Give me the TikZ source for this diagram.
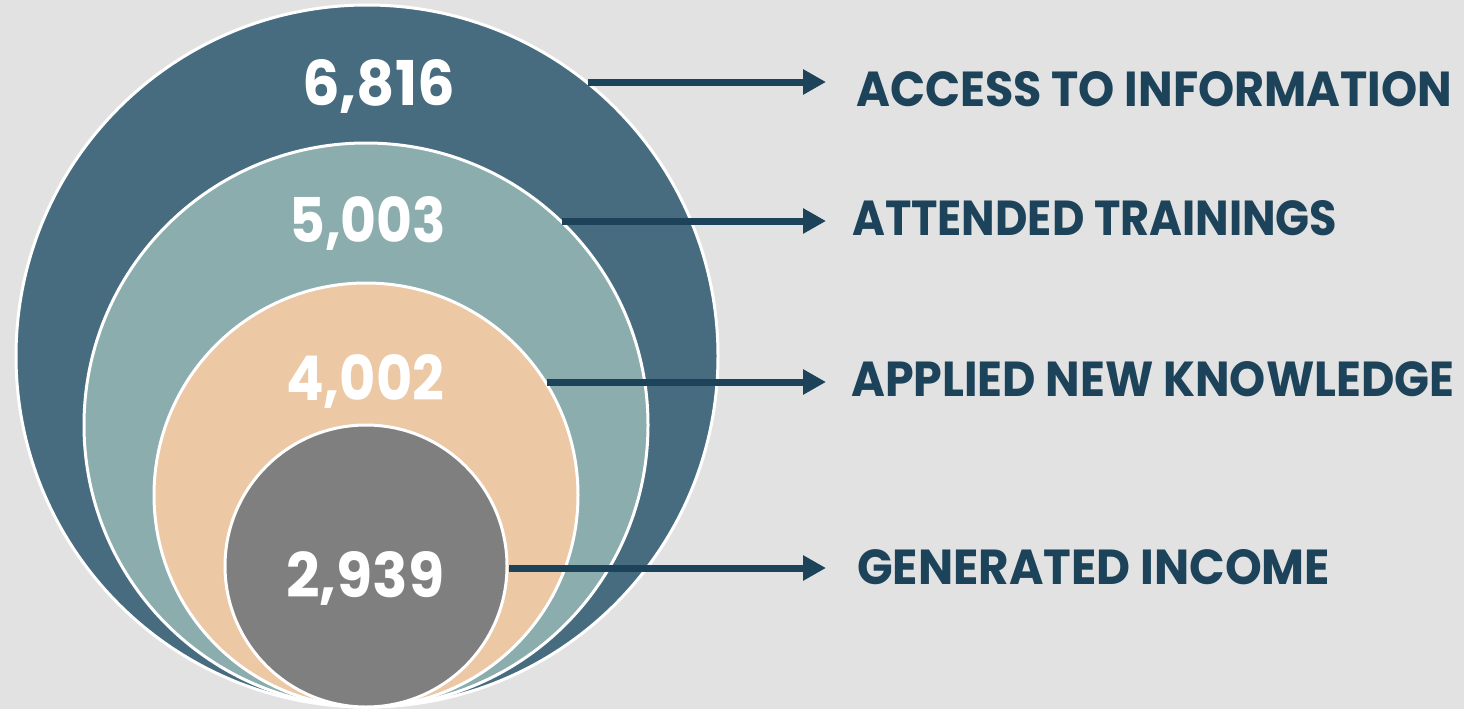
\documentclass[tikz,border=0pt]{standalone}
\usepackage{fontspec}
\setmainfont{Poppins}
\usepackage{graphicx}
\usetikzlibrary{arrows.meta}
\definecolor{bg}{HTML}{E2E2E2}
\definecolor{ringA}{HTML}{476C80}
\definecolor{ringB}{HTML}{8CADAE}
\definecolor{ringC}{HTML}{ECC8A5}
\definecolor{ringD}{HTML}{7F7F7F}
\definecolor{ink}{HTML}{1C4359}
\begin{document}
\begin{tikzpicture}[x=1pt,y=-1pt,
  ring/.style={circle, draw=white, line width=3pt, inner sep=0pt, minimum size=#1},
  num/.style={anchor=base west, inner sep=0pt, text=white},
  lab/.style={anchor=base west, inner sep=0pt, text=ink},
  conn/.style={draw=ink, line width=7pt, -{Triangle[length=23pt,width=24pt]}}]
\useasboundingbox (0,0) rectangle (1464,709);
\fill[bg] (0,0) rectangle (1464,709);
% rings
\node[ring=702pt, fill=ringA] (c1) at (367,356) {};
\node[ring=564pt, fill=ringB] (c2) at (366,425) {};
\node[ring=424pt, fill=ringC] (c3) at (366,495) {};
\node[ring=282pt, fill=ringD] (c4) at (366,566) {};
% numbers
\node[num] (n1) at (302,105) {\resizebox{153pt}{46pt}{\bfseries 6,816}};
\node[num] (n2) at (289,242) {\resizebox{157pt}{46pt}{\bfseries 5,003}};
\node[num] (n3) at (286,400) {\resizebox{158pt}{46pt}{\bfseries 4,002}};
\node[num] (n4) at (286,597) {\resizebox{158pt}{46pt}{\bfseries 2,939}};
% labels
\node[lab] (l1) at (856,106.5) {\resizebox{596pt}{35pt}{\bfseries ACCESS TO INFORMATION}};
\node[lab] (l2) at (852,235) {\resizebox{485pt}{35pt}{\bfseries ATTENDED TRAININGS}};
\node[lab] (l3) at (851,396.5) {\resizebox{603pt}{35pt}{\bfseries APPLIED NEW KNOWLEDGE}};
\node[lab] (l4) at (857,584.5) {\resizebox{473pt}{35pt}{\bfseries GENERATED INCOME}};
% connector ends
\coordinate (s1) at (588,82);   \coordinate (t1) at (826,82);
\coordinate (s2) at (562,221);  \coordinate (t2) at (826,221);
\coordinate (s3) at (547,382);  \coordinate (t3) at (826,382);
\coordinate (s4) at (509,568);  \coordinate (t4) at (826,568);
\draw[conn] (s1) -- (t1);
\draw[conn] (s2) -- (t2);
\draw[conn] (s3) -- (t3);
\draw[conn] (s4) -- (t4);
\end{tikzpicture}
\end{document}
